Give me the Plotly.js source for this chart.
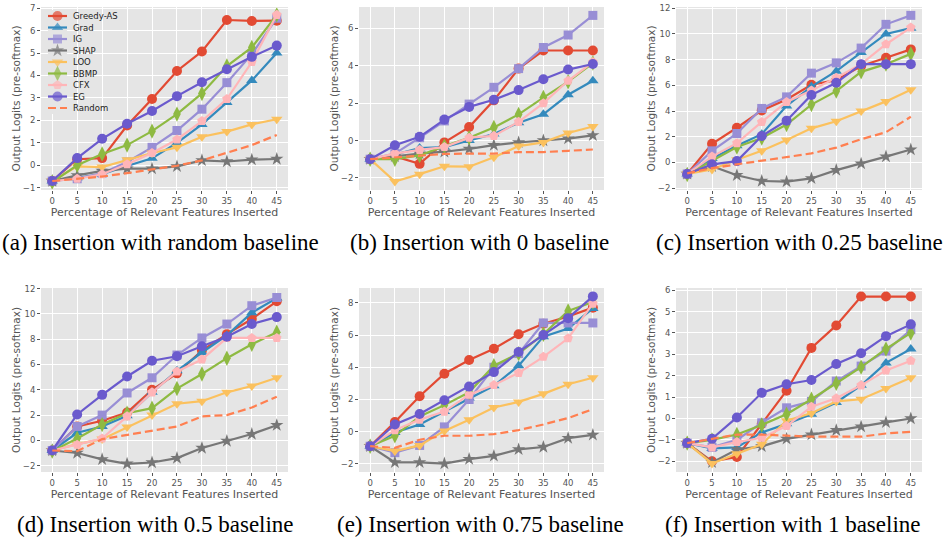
<!DOCTYPE html>
<html>
<head>
<meta charset="utf-8">
<script src="https://cdn.plot.ly/plotly-3.0.1.min.js"></script>
<style>html,body{margin:0;padding:0;background:#fff;}#chart{width:947px;height:544px;}</style>
</head>
<body>
<div id="chart"></div>
<script>
// ---------- data ----------
const pct = [0, 5, 10, 15, 20, 25, 30, 35, 40, 45];
const methods = ["Greedy-AS", "Grad", "IG", "SHAP", "LOO", "BBMP", "CFX", "EG", "Random"];
const colors = ["#E24A33", "#348ABD", "#988ED5", "#777777", "#FBC15E", "#8EBA42", "#FFB5B8", "#6A5ACD", "#FF7F50"];
const symbols = ["circle", "triangle-up", "square", "star", "triangle-down", "diamond-tall", "pentagon", "circle", "circle"];
const markerSizes = [10, 10, 9, 10, 10, 11, 10, 10, 0];

const captions = [
  "(a) Insertion with random baseline",
  "(b) Insertion with 0 baseline",
  "(c) Insertion with 0.25 baseline",
  "(d) Insertion with 0.5 baseline",
  "(e) Insertion with 0.75 baseline",
  "(f) Insertion with 1 baseline"
];

// (a) random baseline — order follows `methods`
const panelA = [
  [-0.7, 0.27, 0.32, 1.77, 2.95, 4.2, 5.07, 6.47, 6.43, 6.44],
  [-0.7, -0.55, -0.4, -0.03, 0.31, 1.0, 1.82, 2.8, 3.78, 5.0],
  [-0.7, -0.6, -0.35, 0.15, 0.8, 1.55, 2.5, 3.68, 4.95, 6.55],
  [-0.7, -0.45, -0.25, -0.15, -0.15, -0.05, 0.22, 0.17, 0.25, 0.28],
  [-0.7, -0.05, -0.08, 0.25, 0.55, 0.8, 1.27, 1.5, 1.82, 2.05],
  [-0.75, 0.0, 0.5, 0.9, 1.52, 2.28, 3.2, 4.42, 5.25, 6.7],
  [-0.7, -0.6, -0.4, 0.05, 0.55, 1.15, 1.97, 2.95, 4.6, 6.7],
  [-0.7, 0.32, 1.18, 1.85, 2.42, 3.08, 3.7, 4.28, 4.83, 5.33],
  [-0.7, -0.6, -0.5, -0.35, -0.2, -0.02, 0.22, 0.55, 0.9, 1.35]
];
// (b) 0 baseline
const panelB = [
  [-1.0, -0.85, -1.25, -0.1, 0.72, 2.15, 3.85, 4.82, 4.82, 4.82],
  [-1.0, -0.75, -0.4, -0.35, 0.0, 0.35, 0.95, 1.4, 2.45, 3.2],
  [-1.0, -0.7, 0.15, 1.05, 1.95, 2.85, 3.85, 4.98, 5.65, 6.7],
  [-1.0, -0.85, -0.7, -0.6, -0.45, -0.25, -0.1, 0.0, 0.1, 0.28],
  [-1.0, -2.2, -1.8, -1.38, -1.4, -0.9, -0.3, -0.1, 0.4, 0.75],
  [-1.0, -1.0, -0.8, -0.3, 0.15, 0.7, 1.4, 2.3, 3.15, 4.15],
  [-1.0, -0.7, -0.5, -0.35, 0.15, 0.25, 1.0, 2.0, 3.2, 4.2],
  [-1.0, -0.25, 0.2, 1.12, 1.8, 2.18, 2.7, 3.28, 3.8, 4.1],
  [-1.0, -0.9, -0.8, -0.72, -0.7, -0.7, -0.62, -0.62, -0.55, -0.48]
];
// (c) 0.25 baseline
const panelC = [
  [-0.9, 1.45, 2.7, 4.05, 4.9, 6.05, 6.4, 7.5, 8.15, 8.8],
  [-0.9, 0.3, 1.3, 2.2, 4.4, 5.9, 7.1, 8.55, 10.0, 10.45],
  [-0.9, 0.9, 2.25, 4.2, 5.1, 6.95, 7.75, 8.9, 10.75, 11.45],
  [-0.9, -0.3, -1.0, -1.45, -1.5, -1.25, -0.6, -0.1, 0.45, 1.0],
  [-0.9, -0.55, 0.2, 0.9, 1.75, 2.65, 3.2, 4.0, 4.75, 5.65],
  [-0.95, 0.15, 1.2, 1.9, 2.95, 4.5, 5.55, 7.05, 7.65, 8.45],
  [-0.9, 0.45, 1.5, 3.15, 4.7, 5.6, 6.6, 7.65, 9.2, 10.5],
  [-0.9, -0.15, 0.1, 2.05, 3.25, 5.25, 6.2, 7.65, 7.65, 7.65],
  [-0.85, -0.45, -0.15, 0.15, 0.4, 0.7, 1.15, 1.8, 2.35, 3.55]
];
// (d) 0.5 baseline
const panelD = [
  [-0.8, 1.1, 1.55, 2.2, 4.0, 5.3, 7.1, 8.4, 9.6, 11.0],
  [-0.8, 0.6, 1.1, 1.95, 3.8, 5.5, 6.95, 8.3, 10.1, 11.25],
  [-0.8, 1.1, 2.0, 3.75, 4.95, 6.75, 8.1, 9.2, 10.65, 11.3],
  [-0.8, -1.0, -1.5, -1.85, -1.75, -1.4, -0.6, -0.05, 0.5, 1.2],
  [-0.8, -0.3, 0.1, 1.05, 2.0, 2.9, 3.1, 3.8, 4.3, 4.95],
  [-0.85, 0.15, 1.25, 2.15, 2.55, 4.1, 5.25, 6.5, 7.6, 8.55],
  [-0.8, -0.35, 0.15, 1.9, 3.8, 5.45, 6.4, 8.1, 8.1, 8.1],
  [-0.8, 2.05, 3.6, 5.05, 6.3, 6.65, 7.45, 8.2, 9.2, 9.75],
  [-0.8, -0.85, 0.1, 0.45, 0.75, 1.1, 1.9, 2.0, 2.6, 3.45]
];
// (e) 0.75 baseline
const panelE = [
  [-0.9, 0.6, 2.2, 3.6, 4.45, 5.15, 6.05, 6.7, 7.15, 7.7],
  [-0.9, -0.05, 0.45, 1.25, 2.1, 2.85, 4.1, 5.9, 6.4, 7.65],
  [-0.9, -1.3, -0.85, 0.3, 2.0, 4.0, 4.85, 6.75, 6.75, 6.75],
  [-0.9, -1.9, -1.9, -1.98, -1.7, -1.5, -1.1, -0.95, -0.4, -0.2],
  [-0.9, -1.2, -0.85, 0.05, 0.75, 1.5, 1.85, 2.35, 2.95, 3.35],
  [-0.9, -0.25, 0.95, 1.65, 2.45, 4.1, 4.85, 6.05, 7.5, 8.05],
  [-0.9, 0.1, 0.75, 1.25, 2.3, 2.9, 3.65, 4.65, 5.8, 7.95],
  [-0.9, 0.45, 1.1, 1.95, 2.8, 3.7, 4.95, 6.0, 7.05, 8.4],
  [-0.9, -1.0, -0.5, -0.25, -0.25, -0.15, 0.1, 0.45, 0.85, 1.4]
];
// (f) 1 baseline
const panelF = [
  [-1.15, -2.0, -1.8, -0.25, 1.3, 3.3, 4.35, 5.7, 5.7, 5.7],
  [-1.15, -1.4, -1.35, -0.65, -0.25, 0.2, 0.75, 1.55, 2.6, 3.25],
  [-1.15, -1.35, -1.0, -0.2, 0.5, 0.8, 1.75, 2.45, 3.15, 4.15],
  [-1.15, -2.05, -1.45, -1.3, -0.95, -0.75, -0.55, -0.38, -0.18, 0.0],
  [-1.15, -2.1, -1.65, -1.2, -0.1, 0.25, 0.8, 0.9, 1.4, 1.9],
  [-1.15, -1.0, -0.75, -0.3, 0.2, 0.9, 1.65, 2.4, 3.25, 4.0],
  [-1.15, -1.35, -1.1, -0.9, -0.35, 0.55, 0.95, 1.55, 2.25, 2.7],
  [-1.15, -0.95, 0.05, 1.2, 1.6, 1.8, 2.55, 3.05, 3.85, 4.4],
  [-1.15, -0.95, -0.75, -0.75, -0.8, -0.85, -0.85, -0.85, -0.7, -0.62]
];

const panels = [panelA, panelB, panelC, panelD, panelE, panelF];
const yRanges = [[-1.1, 7.05], [-2.65, 7.15], [-2.15, 12.1], [-2.5, 12.05], [-2.5, 8.92], [-2.5, 6.1]];
const yDticks = [1, 2, 2, 2, 2, 1];

// ---------- layout geometry (pixels) ----------
const W = 947, H = 544;
const colsPx = [[41, 288], [359, 604], [676, 922]];
const rowsPx = [[7, 190], [288, 472]];
const captionPos = [[160, 242], [480, 242], [799, 242], [155, 524], [481, 524], [792, 524]];

const traces = [];
const layout = {
  width: W, height: H,
  margin: {l: 0, r: 0, t: 0, b: 0},
  paper_bgcolor: "#ffffff",
  plot_bgcolor: "#E5E5E5",
  showlegend: false,
  font: {family: "DejaVu Sans", color: "#555555"},
  annotations: []
};

const tickFont = {family: "DejaVu Sans", size: 8.5, color: "#555555"};
const xTitleFont = {family: "DejaVu Sans", size: 11, color: "#555555"};
const yTitleFont = {family: "DejaVu Sans", size: 10.5, color: "#555555"};

function makeTrace(m, x, y, xa, ya, legendSample) {
  const isRandom = methods[m] === "Random";
  const t = {
    type: "scatter", x: x, y: y, xaxis: xa, yaxis: ya,
    name: methods[m],
    mode: isRandom ? "lines" : "lines+markers",
    line: {color: colors[m], width: 2.2, dash: isRandom ? "8px,4px" : "solid"},
    hoverinfo: "skip"
  };
  if (!isRandom) {
    t.marker = {
      symbol: symbols[m],
      size: legendSample ? x.map((v, i) => i === 1 ? markerSizes[m] : 0) : markerSizes[m],
      color: colors[m], line: {width: 0}
    };
  }
  return t;
}

panels.forEach((panel, p) => {
  const k = p + 1;
  const col = colsPx[p % 3], row = rowsPx[Math.floor(p / 3)];
  const xs = k === 1 ? "" : String(k);
  layout["xaxis" + xs] = {
    domain: [col[0] / W, col[1] / W],
    anchor: "y" + xs,
    range: [-2.25, 47.25],
    tickvals: pct,
    ticks: "outside", ticklen: 3, tickcolor: "#555555",
    showgrid: true, gridcolor: "#ffffff", gridwidth: 1,
    zeroline: false, showline: false,
    tickfont: tickFont,
    title: {text: "Percentage of Relevant Features Inserted", font: xTitleFont, standoff: 2}
  };
  layout["yaxis" + xs] = {
    domain: [1 - row[1] / H, 1 - row[0] / H],
    anchor: "x" + xs,
    range: yRanges[p],
    dtick: yDticks[p],
    ticks: "outside", ticklen: 3, tickcolor: "#555555",
    showgrid: true, gridcolor: "#ffffff", gridwidth: 1,
    zeroline: false, showline: false,
    tickfont: tickFont,
    title: {text: "Output Logits (pre-softmax)", font: yTitleFont, standoff: 0}
  };
  panel.forEach((vals, m) => {
    traces.push(makeTrace(m, pct, vals, "x" + xs, "y" + xs, false));
  });
  layout.annotations.push({
    xref: "paper", yref: "paper",
    x: captionPos[p][0] / W, y: 1 - captionPos[p][1] / H,
    xanchor: "center", yanchor: "middle",
    text: captions[p], showarrow: false,
    font: {family: "Liberation Serif", size: 23, color: "#000000"}
  });
});

// ---------- legend (inside panel a) drawn on an overlay axis ----------
const legTop = 10, legBottom = 114, legStep = 11.5, legFirst = 16;
layout.xaxis7 = {
  domain: [48 / W, 67 / W], anchor: "y7", range: [0, 1],
  visible: false, fixedrange: true
};
layout.yaxis7 = {
  domain: [1 - legBottom / H, 1 - legTop / H], anchor: "x7",
  range: [(legBottom - legFirst) / legStep, -(legFirst - legTop) / legStep],
  visible: false, fixedrange: true
};
methods.forEach((name, m) => {
  traces.push(makeTrace(m, [0, 0.5, 1], [m, m, m], "x7", "y7", true));
  layout.annotations.push({
    xref: "x7", yref: "y7", x: 1, y: m,
    xanchor: "left", yanchor: "middle", xshift: 4,
    text: name, showarrow: false,
    font: {family: "DejaVu Sans", size: 8.5, color: "#222222"}
  });
});

Plotly.newPlot("chart", traces, layout, {staticPlot: true, displayModeBar: false});
</script>
</body>
</html>
